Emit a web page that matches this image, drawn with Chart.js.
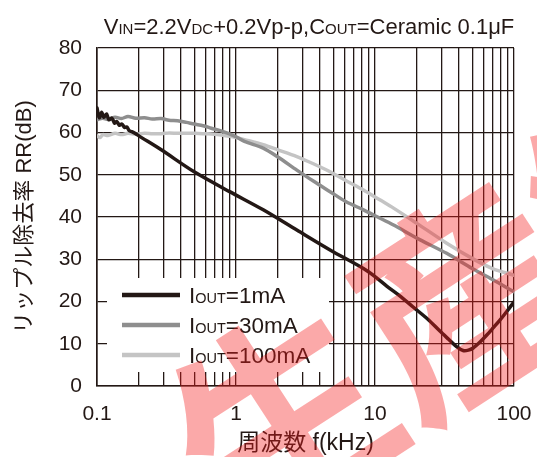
<!DOCTYPE html>
<html><head><meta charset="utf-8">
<script src="https://cdn.jsdelivr.net/npm/chart.js@4"></script>
<style>html,body{margin:0;padding:0;background:#fff;}#wrap{width:537px;height:457px;position:relative;}</style>
</head><body><div id="wrap"><canvas id="c" width="537" height="457"></canvas></div>
<script>
// ---- data ----
const X_GRID = [0.1,0.2,0.3,0.4,0.5,0.6,0.7,0.8,0.9,1,2,3,4,5,6,7,8,9,10,20,30,40,50,60,70,80,90,100];
const X_LABEL_VALUES = [0.1,1,10,100];
const X_LABEL_TEXT = ['0.1','1','10','100'];
const Y_TICKS = [0,10,20,30,40,50,60,70,80];
const SERIES_NAMES = ['1mA','30mA','100mA'];

const FREQ_1MA = [0.1,0.104,0.108,0.112,0.117,0.122,0.128,0.134,0.139,0.145,0.151,0.158,0.164,0.171,0.178,0.19,0.2,0.29,0.5,0.9,1.57,2.74,4.75,8.26,10,12.2,15,18.8,24,29.3,34,38.6,43,47,50.9,57,63.5,71,79.2,89,100];
const RR_1MA   = [65.8,63.5,64.8,63.6,64.4,63.0,63.4,62.2,62.6,61.7,62.0,61.2,61.3,60.4,60.2,59.7,59.2,55.9,50.7,46.0,41.7,36.9,32.2,27.8,25.9,23.6,21.4,18.7,15.8,13.0,11.0,9.3,8.4,8.5,9.0,10.4,12.0,13.8,15.6,17.7,19.9];

const FREQ_30MA = [0.1,0.11,0.12,0.135,0.15,0.167,0.19,0.22,0.25,0.29,0.33,0.38,0.44,0.5,0.58,0.665,0.76,0.878,1.0,1.15,1.57,2.0,2.74,3.6,4.75,6.2,8.26,10,13.6,20,32.8,50,70,100];
const RR_30MA   = [63.0,63.4,63.1,63.6,63.3,63.8,63.4,63.5,63.2,63.3,62.9,62.8,62.4,62.0,61.6,61.0,60.5,59.8,59.0,57.9,56.3,54.2,51.1,48.5,46.0,43.6,41.7,40.3,38.1,35.0,31.4,27.8,25.2,22.3];

const FREQ_100MA = [0.1,0.105,0.11,0.12,0.135,0.15,0.167,0.19,0.22,0.25,0.29,0.33,0.38,0.44,0.505,0.6,0.7,0.786,0.9,1.0,1.15,1.57,2.0,2.74,3.6,4.75,6.2,8.26,10.9,13.6,20,32.8,50,70,100];
const RR_100MA   = [59.2,58.8,59.5,59.3,59.8,59.5,59.8,59.6,59.8,59.7,59.7,59.9,59.8,59.8,59.8,59.7,59.6,59.4,59.1,58.8,58.3,57.1,55.9,54.3,52.6,50.7,48.6,46.4,44.0,42.1,38.5,33.8,30.2,27.8,26.2];

// ---- styling ----
const INK = '#231815';
const COLORS = [INK, '#8e8e8e', '#c4c4c4'];
const FONT = "'Liberation Sans', Arial, 'Noto Sans CJK JP', sans-serif";
const pts = (xs, ys) => xs.map((x, i) => ({x, y: ys[i]}));

const overlay = {
  id: 'overlay',
  beforeDatasetsDraw(chart) {
    const {ctx, chartArea: ca} = chart;
    ctx.save();
    ctx.fillStyle = '#fff';
    ctx.fillRect(ca.left + 10, ca.bottom - 108, 222, 94);
    ctx.restore();
  },
  afterDatasetsDraw(chart) {
    const {ctx, chartArea: ca} = chart;
    ctx.save();
    // legend
    chart.data.datasets.forEach((ds, i) => {
      const y = ca.bottom - 91 + i * 30;
      ctx.strokeStyle = ds.borderColor;
      ctx.lineWidth = 4.5;
      ctx.beginPath();
      ctx.moveTo(ca.left + 25, y);
      ctx.lineTo(ca.left + 83, y);
      ctx.stroke();
      ctx.fillStyle = INK;
      ctx.textBaseline = 'alphabetic';
      ctx.textAlign = 'left';
      let x = ca.left + 92;
      const parts = [['I', 22.5], ['OUT', 14.5], ['=' + SERIES_NAMES[i], 22.5]];
      parts.forEach(([t, s]) => {
        ctx.font = s + 'px ' + FONT;
        ctx.fillText(t, x, y + 8);
        x += ctx.measureText(t).width;
      });
    });
    // title
    const tparts = [['V',22],['IN',15],['=2.2V',22],['DC',15],['+0.2Vp-p,C',22],['OUT',15],['=Ceramic 0.1μF',22]];
    let w = 0;
    tparts.forEach(([t, s]) => { ctx.font = s + 'px ' + FONT; w += ctx.measureText(t).width; });
    let tx = 309 - w / 2;
    ctx.fillStyle = INK;
    tparts.forEach(([t, s]) => {
      ctx.font = s + 'px ' + FONT;
      ctx.fillText(t, tx, 34);
      tx += ctx.measureText(t).width;
    });
    ctx.restore();
  },
  afterDraw(chart) {
    const {ctx} = chart;
    ctx.save();
    ctx.fillStyle = 'rgba(245,30,30,0.38)';
    ctx.font = "bold 215px 'Noto Sans CJK JP'";
    ctx.textAlign = 'center';
    ctx.textBaseline = 'middle';
    ctx.translate(282, 418);
    ctx.rotate(-33 * Math.PI / 180);
    ['生','産','終','了'].forEach((ch, i) => ctx.fillText(ch, i * 215, 0));
    ctx.restore();
  }
};

new Chart(document.getElementById('c'), {
  type: 'line',
  data: {
    datasets: [
      {label: 'IOUT=' + SERIES_NAMES[0], data: pts(FREQ_1MA, RR_1MA), borderColor: COLORS[0]},
      {label: 'IOUT=' + SERIES_NAMES[1], data: pts(FREQ_30MA, RR_30MA), borderColor: COLORS[1]},
      {label: 'IOUT=' + SERIES_NAMES[2], data: pts(FREQ_100MA, RR_100MA), borderColor: COLORS[2]}
    ].map(d => Object.assign(d, {borderWidth: 3.5, pointRadius: 0, tension: 0.3, fill: false, borderJoinStyle: 'round', borderCapStyle: 'round'}))
  },
  options: {
    responsive: false,
    animation: false,
    devicePixelRatio: 1,
    layout: {padding: {top: 48, right: 23, bottom: 0, left: 0}},
    plugins: {legend: {display: false}, title: {display: false}, tooltip: {enabled: false}},
    scales: {
      x: {
        type: 'logarithmic', min: 0.1, max: 100,
        afterBuildTicks: s => { s.ticks = X_GRID.map(v => ({value: v})); },
        afterFit: s => { s.height = 71; s.paddingLeft = 0; s.paddingRight = 0; },
        grid: {color: INK, lineWidth: 1.3, drawTicks: false},
        border: {color: INK, width: 1.6},
        ticks: {
          autoSkip: false, maxRotation: 0, padding: 16, color: INK,
          font: {size: 21, family: FONT},
          callback: v => { const i = X_LABEL_VALUES.findIndex(t => Math.abs(t - v) < 1e-9); return i >= 0 ? X_LABEL_TEXT[i] : ''; }
        },
        title: {display: true, text: '周波数 f(kHz)', color: INK, font: {size: 23, family: FONT}, padding: {top: 0, bottom: 0}}
      },
      y: {
        min: 0, max: 80,
        afterBuildTicks: s => { s.ticks = Y_TICKS.map(v => ({value: v})); },
        afterFit: s => { s.width = 97; s.paddingTop = 0; s.paddingBottom = 0; },
        grid: {color: INK, lineWidth: 1.3, drawTicks: false},
        border: {color: INK, width: 1.6},
        ticks: {padding: 15, color: INK, font: {size: 21, family: FONT}},
        title: {display: true, text: 'リップル除去率 RR(dB)', color: INK, font: {size: 22, family: FONT}, padding: {top: 12, bottom: 0}}
      }
    }
  },
  plugins: [overlay]
});
</script></body></html>
